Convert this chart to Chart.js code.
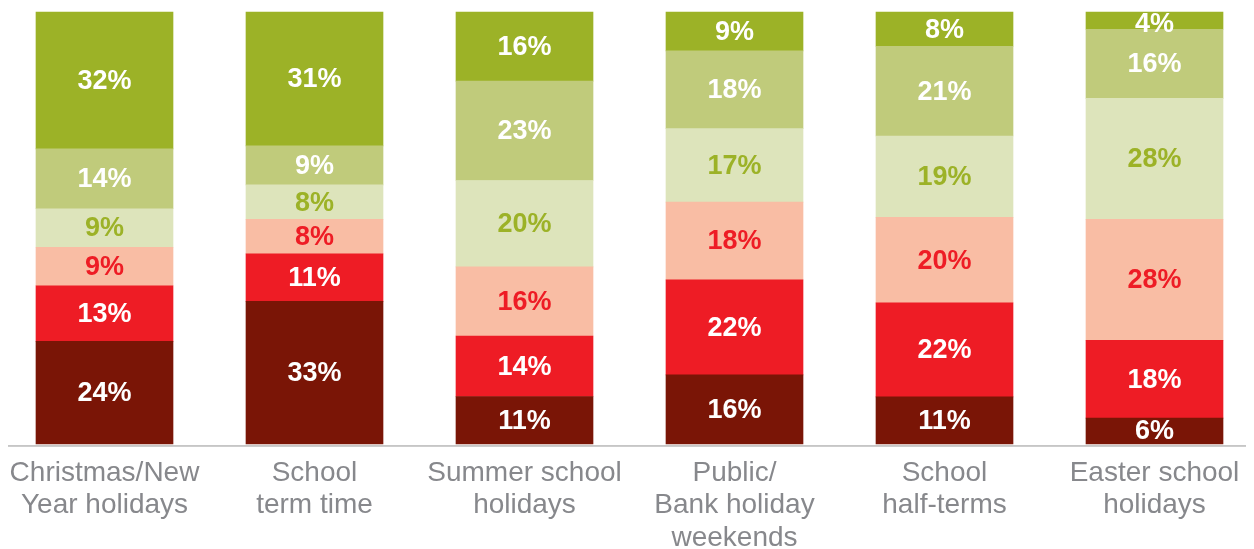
<!DOCTYPE html>
<html>
<head>
<meta charset="utf-8">
<script src="https://cdn.jsdelivr.net/npm/chart.js@4.4.1/dist/chart.umd.min.js"></script>
<style>
html,body{margin:0;padding:0;background:#fff;}
#wrap{width:1254px;height:549px;}
</style>
</head>
<body>
<div id="wrap"><canvas id="c" width="1254" height="549"></canvas></div>
<script>
const categories = [
  ["Christmas/New", "Year holidays"],
  ["School", "term time"],
  ["Summer school", "holidays"],
  ["Public/", "Bank holiday", "weekends"],
  ["School", "half-terms"],
  ["Easter school", "holidays"]
];
// stacked from bottom to top (percent)
const seg1 = [24, 33, 11, 16, 11, 6];
const seg2 = [13, 11, 14, 22, 22, 18];
const seg3 = [9, 8, 16, 18, 20, 28];
const seg4 = [9, 8, 20, 17, 19, 28];
const seg5 = [14, 9, 23, 18, 21, 16];
const seg6 = [32, 31, 16, 9, 8, 4];

const segments = [seg1, seg2, seg3, seg4, seg5, seg6];
const fillColors = ['#7a1506', '#ee1c25', '#f9bda4', '#dde4bb', '#c0cb7b', '#9cb227'];
const textColors = ['#ffffff', '#ffffff', '#ee1c25', '#9cb227', '#ffffff', '#ffffff'];

const totals = categories.map((_, i) => segments.reduce((s, arr) => s + arr[i], 0));

const datasets = segments.map((arr, k) => ({
  data: arr.map((v, i) => v / totals[i] * 100),
  raw: arr,
  backgroundColor: fillColors[k],
  borderWidth: 0,
  barThickness: 137,
  clip: false,
  labelColor: textColors[k]
}));

const labelPlugin = {
  id: 'segLabels',
  afterDatasetsDraw(chart) {
    const ctx = chart.ctx;
    ctx.save();
    ctx.font = 'bold 27px "Liberation Sans", Arial, sans-serif';
    ctx.textAlign = 'center';
    ctx.textBaseline = 'middle';
    chart.data.datasets.forEach((ds, di) => {
      const meta = chart.getDatasetMeta(di);
      meta.data.forEach((bar, i) => {
        const h = Math.abs(bar.base - bar.y);
        const yc = (bar.y + bar.base) / 2 + 1 + (h < 24 ? 3 : 0);
        ctx.fillStyle = ds.labelColor;
        ctx.fillText(ds.raw[i] + '%', bar.x, yc);
      });
    });
    ctx.restore();
  }
};

const baselinePlugin = {
  id: 'baseline',
  beforeDatasetsDraw(chart) {
    const ctx = chart.ctx;
    const y = chart.scales.y.getPixelForValue(0);
    ctx.save();
    ctx.fillStyle = '#b8b8b8';
    ctx.fillRect(8, y + 1.2, 1238, 1.5);
    ctx.restore();
  }
};

new Chart(document.getElementById('c'), {
  type: 'bar',
  data: { labels: categories, datasets: datasets },
  options: {
    responsive: false,
    animation: false,
    devicePixelRatio: 1,
    layout: { padding: { left: 104.5, right: 99.5, top: 12, bottom: 0 } },
    plugins: { legend: { display: false }, tooltip: { enabled: false } },
    scales: {
      x: {
        stacked: true,
        offset: false,
        border: { display: false },
        grid: { display: false, drawTicks: false },
        ticks: {
          autoSkip: false,
          maxRotation: 0,
          minRotation: 0,
          padding: 13,
          color: '#87888c',
          font: { family: '"Liberation Sans", Arial, sans-serif', size: 28, lineHeight: 32.5 / 28 }
        },
        afterFit(scale) {
          scale.height = 105;
          scale.paddingLeft = 0;
          scale.paddingRight = 0;
        }
      },
      y: {
        stacked: true,
        display: false,
        min: 0,
        max: 100
      }
    }
  },
  plugins: [baselinePlugin, labelPlugin]
});
</script>
</body>
</html>
